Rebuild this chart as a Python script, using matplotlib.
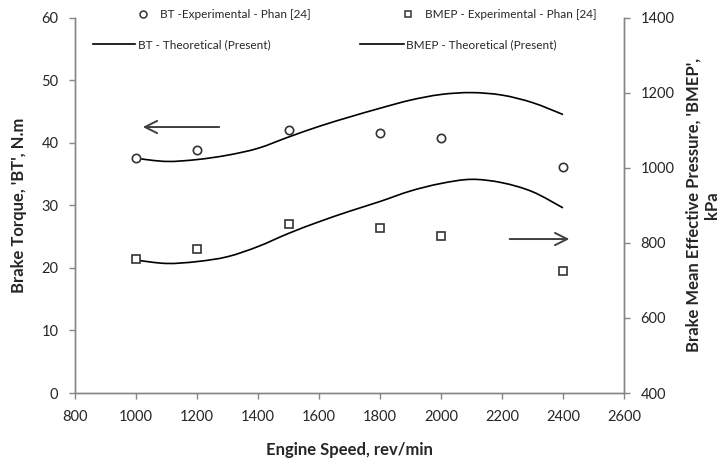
import numpy as np
import matplotlib.pyplot as plt
from matplotlib.lines import Line2D
from matplotlib.legend import Legend
from matplotlib.path import Path
from matplotlib.patches import PathPatch

plt.rcParams['font.family'] = ['Lato', 'DejaVu Sans']

# measured points (Phan [24])
speed_exp = [1000, 1200, 1500, 1800, 2000, 2400]
bt_exp = [37.6, 38.9, 42.1, 41.5, 40.7, 36.1]
bmep_exp = [757, 783, 849, 839, 818, 725]

# present theoretical model
speed_th = [1000, 1100, 1200, 1300, 1400, 1500, 1600, 1700,
            1800, 1900, 2000, 2100, 2200, 2300, 2400]
bt_th = [37.5, 37.0, 37.3, 38.0, 39.1, 40.9, 42.6, 44.1,
         45.5, 46.8, 47.7, 48.0, 47.6, 46.4, 44.5]
bmep_th = [754, 745, 750, 763, 790, 825, 856, 884,
           910, 938, 958, 969, 960, 936, 893]

xticks = np.arange(800, 2601, 200)
yticks_bt = np.arange(0, 61, 10)
yticks_bmep = np.arange(400, 1401, 200)

axis_grey = '#868686'
txt = '#262626'
W, H = 728, 465


def smooth_line(a, xs, ys, **kw):
    # excel-style "smoothed line": bezier segments through every point
    p = np.column_stack([xs, ys]).astype(float)
    ext = np.vstack([p[0], p, p[-1]])
    verts = [p[0]]
    codes = [Path.MOVETO]
    for i in range(len(p) - 1):
        c1 = ext[i + 1] + (ext[i + 2] - ext[i]) / 6
        c2 = ext[i + 2] - (ext[i + 3] - ext[i + 1]) / 6
        verts += [c1, c2, p[i + 1]]
        codes += [Path.CURVE4] * 3
    a.add_patch(PathPatch(Path(verts, codes), fill=False, **kw))


fig = plt.figure(figsize=(7.28, 4.65), dpi=100)
ax = fig.add_axes([75 / W, 1 - 393 / H, 549 / W, 375.5 / H])
ax2 = ax.twinx()

ax.plot(speed_exp, bt_exp, 'o', ms=6, mfc='white', mec='#333333', mew=1.2, zorder=3)
smooth_line(ax, speed_th, bt_th, ec='black', lw=1.2)
ax2.plot(speed_exp, bmep_exp, 's', ms=6, mfc='white', mec='#333333', mew=1.2, zorder=3)
smooth_line(ax2, speed_th, bmep_th, ec='black', lw=1.2)

ax.set_xlim(800, 2600)
ax.set_ylim(0, 60)
ax2.set_ylim(400, 1400)
ax.set_xticks(xticks)
ax.set_yticks(yticks_bt)
ax2.set_yticks(yticks_bmep)

for a in (ax, ax2):
    a.spines['top'].set_visible(False)
    for s in ('left', 'right', 'bottom'):
        a.spines[s].set_color(axis_grey)
        a.spines[s].set_linewidth(1.0)
    a.tick_params(direction='out', length=4, width=1.0, color=axis_grey,
                  labelsize=10.5, labelcolor=txt)
ax.tick_params(axis='x', pad=8)
ax.tick_params(axis='y', pad=8)
ax2.tick_params(axis='y', pad=8)

ax.set_xlabel('Engine Speed, rev/min', fontsize=12, fontweight='bold', color=txt, labelpad=13)
ax.set_ylabel("Brake Torque, 'BT', N.m", fontsize=12, fontweight='bold', color=txt, labelpad=10)
ax2.set_ylabel("Brake Mean Effective Pressure, 'BMEP',\nkPa", fontsize=12,
               fontweight='bold', color=txt, labelpad=8, linespacing=1.2)

# direction arrows
ax.annotate('', xy=(1013, 42.5), xytext=(1282, 42.5),
            arrowprops=dict(arrowstyle='->', color='#404040', lw=1.4, mutation_scale=22))
ax2.annotate('', xy=(2430, 810), xytext=(2216, 810),
             arrowprops=dict(arrowstyle='->', color='#404040', lw=1.4, mutation_scale=22))

# legend: four single entries laid out like the excel legend
fs = 8.5
em = fs * 100 / 72
entries = [
    (Line2D([], [], ls='none', marker='o', ms=5, mfc='white', mec='#333333', mew=1.1),
     'BT -Experimental - Phan [24]', 135.5, 15, 15, 9.5),
    (Line2D([], [], ls='none', marker='s', ms=5, mfc='white', mec='#333333', mew=1.1),
     'BMEP - Experimental - Phan [24]', 400.5, 15, 15, 9.5),
    (Line2D([], [], color='black', lw=1.2),
     'BT - Theoretical (Present)', 93, 45, 42, 3),
    (Line2D([], [], color='black', lw=1.2),
     'BMEP - Theoretical (Present)', 360, 45, 44, 2),
]
for h, lab, x0, y0, hl, pad in entries:
    leg = Legend(ax, [h], [lab], loc='center left', bbox_to_anchor=(x0 / W, 1 - y0 / H),
                 bbox_transform=fig.transFigure, frameon=False, fontsize=fs,
                 handlelength=hl / em, handletextpad=pad / em,
                 borderpad=0, borderaxespad=0)
    leg.get_texts()[0].set_color(txt)
    ax.add_artist(leg)

fig.savefig('out.png', dpi=100)
